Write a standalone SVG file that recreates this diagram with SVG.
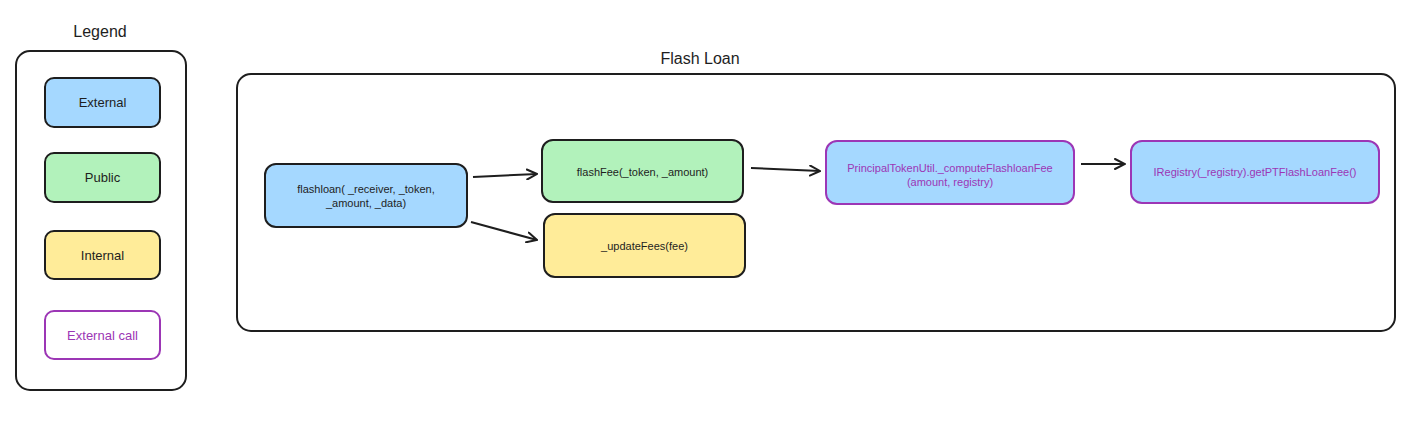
<svg xmlns="http://www.w3.org/2000/svg" width="1413" height="422" viewBox="0 0 1413 422">
<defs>
<style>
text{font-family:"Liberation Sans","DejaVu Sans",sans-serif;fill:#1e1e1e;text-anchor:middle;dominant-baseline:central}
.frame{fill:#fff;stroke:#1e1e1e;stroke-width:2}
.ext{fill:#a5d8ff;stroke:#1e1e1e;stroke-width:2}
.pub{fill:#b2f2bb;stroke:#1e1e1e;stroke-width:2}
.int{fill:#ffec99;stroke:#1e1e1e;stroke-width:2}
.call{fill:#fff;stroke:#9c36b5;stroke-width:2}
.extcall{fill:#a5d8ff;stroke:#9c36b5;stroke-width:2}
.lbl{font-size:11px}
.leg{font-size:13px}
.title{font-size:16px}
.purple{fill:#9c36b5}
.conn{stroke:#1e1e1e;stroke-width:2;fill:none;marker-end:url(#arr)}
</style>
<marker id="arr" viewBox="0 0 12 12" refX="11" refY="6" markerWidth="12" markerHeight="12" markerUnits="userSpaceOnUse" orient="auto">
<path d="M1,1 L11,6 L1,11" fill="none" stroke="#1e1e1e" stroke-width="2" stroke-linecap="round"/>
</marker>
</defs>
<rect width="1413" height="422" fill="#fff"/>

<g id="legend">
<text class="title" x="100" y="31">Legend</text>
<rect class="frame" x="16" y="51" width="170" height="339" rx="14"/>
</g>
<g id="legend-external">
<rect class="ext" x="45" y="78" width="115" height="49" rx="9"/>
<text class="leg" x="102.5" y="102.5">External</text>
</g>
<g id="legend-public">
<rect class="pub" x="45" y="153" width="115" height="49" rx="9"/>
<text class="leg" x="102.5" y="177.5">Public</text>
</g>
<g id="legend-internal">
<rect class="int" x="45" y="231" width="115" height="48" rx="9"/>
<text class="leg" x="102.5" y="255">Internal</text>
</g>
<g id="legend-externalcall">
<rect class="call" x="45" y="311" width="115" height="48" rx="9"/>
<text class="leg purple" x="102.5" y="335">External call</text>
</g>

<g id="flashloan-group">
<text class="title" x="700" y="58">Flash Loan</text>
<rect class="frame" x="237" y="74" width="1158" height="257" rx="14"/>
</g>

<g id="connectors">
<path class="conn" d="M473,177 L537,174"/>
<path class="conn" d="M471,222 L537,240"/>
<path class="conn" d="M751,168 L820,171"/>
<path class="conn" d="M1081,164 L1125,164"/>
</g>

<g id="flashloan">
<rect class="ext" x="265" y="164" width="202" height="63" rx="11"/>
<text class="lbl" x="366" y="189">flashloan( _receiver, _token,</text>
<text class="lbl" x="366" y="203">_amount, _data)</text>
</g>
<g id="flashFee">
<rect class="pub" x="542" y="140" width="201" height="62" rx="11"/>
<text class="lbl" x="642.5" y="172">flashFee(_token, _amount)</text>
</g>
<g id="updateFees">
<rect class="int" x="544" y="214" width="201" height="63" rx="11"/>
<text class="lbl" x="644.5" y="246">_updateFees(fee)</text>
</g>
<g id="computeFlashloanFee">
<rect class="extcall" x="826" y="141" width="248" height="63" rx="11"/>
<text class="lbl purple" x="950" y="168">PrincipalTokenUtil._computeFlashloanFee</text>
<text class="lbl purple" x="950" y="182">(amount, registry)</text>
</g>
<g id="getPTFlashLoanFee">
<rect class="extcall" x="1131" y="141" width="248" height="62" rx="11"/>
<text class="lbl purple" x="1255" y="172">IRegistry(_registry).getPTFlashLoanFee()</text>
</g>
</svg>
